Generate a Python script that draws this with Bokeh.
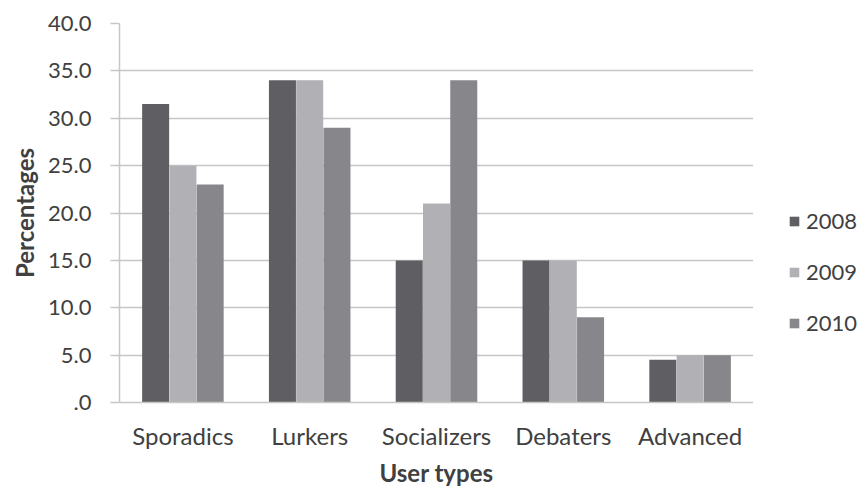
from bokeh.plotting import figure
from bokeh.layouts import row
from bokeh.models import ColumnDataSource, FactorRange, Range1d, FixedTicker, CustomJSTickFormatter, Legend, LegendItem
from bokeh.transform import dodge
from bokeh.embed import file_html
from bokeh.resources import INLINE

categories = ["Sporadics", "Lurkers", "Socializers", "Debaters", "Advanced"]
years = ["2008", "2009", "2010"]
v2008 = [31.5, 34.0, 15.0, 15.0, 4.5]
v2009 = [25.0, 34.0, 21.0, 15.0, 5.0]
v2010 = [23.0, 29.0, 34.0, 9.0, 5.0]
y_ticks = [0, 5, 10, 15, 20, 25, 30, 35, 40]

colors = ["#5f5f63", "#b1b1b5", "#87878b"]
FONT = "Lato"
TXT = "#404040"

src = ColumnDataSource(dict(cat=categories, y2008=v2008, y2009=v2009, y2010=v2010))

p = figure(width=753, height=489, output_backend="svg", toolbar_location=None,
           x_range=FactorRange(*categories, range_padding=0), y_range=Range1d(0, 40),
           min_border_left=119, min_border_right=0, min_border_top=23, min_border_bottom=86)
p.outline_line_color = None
p.background_fill_color = "white"
p.border_fill_color = "white"

offsets = [-0.215, 0.0, 0.215]
for yr, col, off in zip(years, colors, offsets):
    p.vbar(x=dodge("cat", off, range=p.x_range), top="y" + yr, width=0.213,
           source=src, fill_color=col, line_color=None)

# y axis
p.yaxis.ticker = FixedTicker(ticks=y_ticks)
p.yaxis.formatter = CustomJSTickFormatter(code="return tick == 0 ? '.0' : tick.toFixed(1);")
p.yaxis.axis_line_color = "#c6c6c6"
p.yaxis.axis_line_width = 1.5
p.yaxis.major_tick_line_color = "#c6c6c6"
p.yaxis.major_tick_line_width = 1.5
p.yaxis.major_tick_out = 9
p.yaxis.major_tick_in = 0
p.yaxis.minor_tick_line_color = None
p.yaxis.major_label_standoff = 19
p.yaxis.major_label_text_font = FONT
p.yaxis.major_label_text_font_size = "22px"
p.yaxis.major_label_text_color = TXT
p.yaxis.axis_label = "Percentages"
p.yaxis.axis_label_text_font = FONT
p.yaxis.axis_label_text_font_size = "24px"
p.yaxis.axis_label_text_font_style = "bold"
p.yaxis.axis_label_text_color = TXT
p.yaxis.axis_label_standoff = 6

# x axis
p.xaxis.axis_line_color = "#c6c6c6"
p.xaxis.axis_line_width = 1.5
p.xaxis.major_tick_line_color = None
p.xaxis.minor_tick_line_color = None
p.xaxis.major_label_standoff = 12
p.xaxis.major_label_text_font = FONT
p.xaxis.major_label_text_font_size = "24px"
p.xaxis.major_label_text_color = TXT
p.xaxis.axis_label = "User types"
p.xaxis.axis_label_text_font = FONT
p.xaxis.axis_label_text_font_size = "24px"
p.xaxis.axis_label_text_font_style = "bold"
p.xaxis.axis_label_text_color = TXT
p.xaxis.axis_label_standoff = 5

p.xgrid.grid_line_color = None
p.ygrid.grid_line_color = "#c6c6c6"
p.ygrid.grid_line_width = 1.5

# legend panel as a separate, axis-less figure to the right
lg = figure(width=112, height=489, output_backend="svg", toolbar_location=None,
            x_range=Range1d(0, 1), y_range=Range1d(0, 1),
            min_border_left=0, min_border_right=0, min_border_top=0, min_border_bottom=0)
lg.axis.visible = False
lg.grid.visible = False
lg.outline_line_color = None
lg.border_fill_color = "white"
# proxy renderers (outside the visible range) that only supply the legend swatches
proxy = ColumnDataSource(dict(x=[-1.0], top=[0.0]))
legend_renderers = [lg.vbar(x="x", top="top", width=0.1, source=proxy, fill_color=c, line_color=None)
                    for c in colors]
legend = Legend(items=[LegendItem(label=yr, renderers=[r]) for yr, r in zip(years, legend_renderers)],
                location=(35, 66), orientation="vertical",
                padding=0, margin=0, spacing=24, label_height=26, label_standoff=6,
                glyph_width=12, glyph_height=12,
                label_text_font=FONT, label_text_font_size="22px", label_text_color=TXT,
                background_fill_alpha=0, border_line_color=None)
lg.add_layout(legend, "center")

layout = row(p, lg, spacing=0)
open("out.html", "w").write(file_html(layout, INLINE))
